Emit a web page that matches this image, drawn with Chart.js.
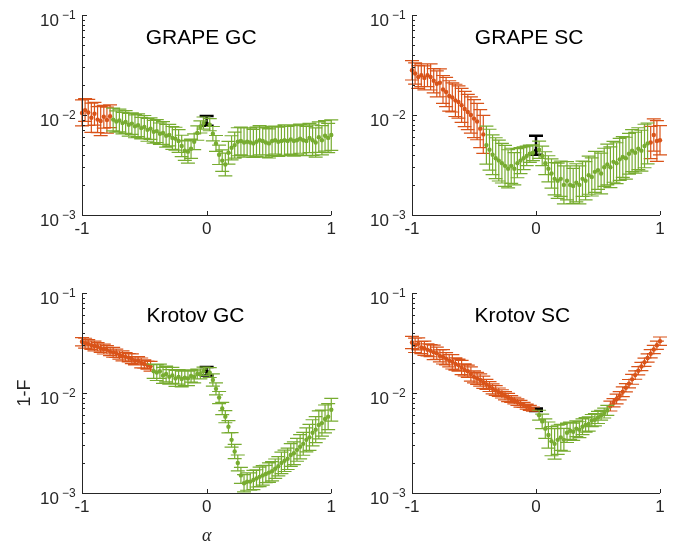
<!DOCTYPE html>
<html>
<head>
<meta charset="utf-8">
<script src="https://cdn.jsdelivr.net/npm/chart.js@4.4.0/dist/chart.umd.min.js"></script>
<style>
  html, body { margin: 0; padding: 0; background: #fff; }
  #wrap { position: relative; width: 673px; height: 547px; overflow: hidden; }
  canvas { position: absolute; }
</style>
</head>
<body>
<div id="wrap">
  <canvas id="c0" width="340" height="250" style="left:0;top:0"></canvas>
  <canvas id="c1" width="340" height="250" style="left:330px;top:0"></canvas>
  <canvas id="c2" width="340" height="269" style="left:0;top:278px"></canvas>
  <canvas id="c3" width="340" height="269" style="left:330px;top:278px"></canvas>
</div>
<script>
// alpha grid (x axis), shared by all four panels
const alpha = [
  -1, -0.975, -0.95, -0.925, -0.9, -0.875, -0.85, -0.825, -0.8, -0.775,
  -0.75, -0.725, -0.7, -0.675, -0.65, -0.625, -0.6, -0.575, -0.55, -0.525,
  -0.5, -0.475, -0.45, -0.425, -0.4, -0.375, -0.35, -0.325, -0.3, -0.275,
  -0.25, -0.225, -0.2, -0.175, -0.15, -0.125, -0.1, -0.075, -0.05, -0.025,
  0,
  0.025, 0.05, 0.075, 0.1, 0.125, 0.15, 0.175, 0.2, 0.225,
  0.25, 0.275, 0.3, 0.325, 0.35, 0.375, 0.4, 0.425, 0.45, 0.475,
  0.5, 0.525, 0.55, 0.575, 0.6, 0.625, 0.65, 0.675, 0.7, 0.725,
  0.75, 0.775, 0.8, 0.825, 0.85, 0.875, 0.9, 0.925, 0.95, 0.975, 1
];

const titles = ['GRAPE GC', 'GRAPE SC', 'Krotov GC', 'Krotov SC'];
const titleAlpha = [-0.044, -0.056, -0.09, -0.11];
const xTicks = [-1, 0, 1];
const yTicks = [1e-3, 1e-2, 1e-1];
const UNIT = 1e-3; // infidelity values below are in units of 1e-3

// 1-F, GRAPE GC
const ggY = [
  10.5, 11.2, 10.6, 9.4, 10.3, 9.0, 8.7, 9.6, 8.9, 9.7,
  9.0, 8.6, 8.8, 8.3, 8.5, 8.0, 8.2, 7.7, 7.9, 7.4,
  7.6, 7.1, 7.3, 6.8, 6.9, 6.5, 6.6, 6.2, 6.3, 5.9,
  5.8, 5.5, 4.9, 4.4, 4.3, 4.6, 5.4, 6.6, 7.6, 8.3,
  null,
  8.0, 6.5, 5.2, 4.0, 3.5, 3.2, 4.2, 4.7, 5.0,
  5.4, 5.5, 5.3, 5.4, 5.3, 5.2, 5.4, 5.6, 5.5, 5.3,
  5.2, 5.5, 5.6, 5.4, 5.5, 5.6, 5.5, 5.7, 5.5, 5.6,
  5.8, 5.6, 5.5, 5.9, 5.6, 5.3, 6.0, 5.6, 6.2, 5.9, 6.3
];
// error bar factor (upper = y*f, lower = y/f)
const ggE = [
  1.35, 1.3, 1.35, 1.4, 1.3, 1.35, 1.4, 1.3, 1.35, 1.3,
  1.3, 1.28, 1.3, 1.28, 1.3, 1.3, 1.28, 1.3, 1.3, 1.28,
  1.3, 1.3, 1.28, 1.3, 1.3, 1.28, 1.3, 1.3, 1.28, 1.3,
  1.3, 1.3, 1.28, 1.25, 1.3, 1.25, 1.2, 1.18, 1.15, 1.15,
  null,
  1.15, 1.18, 1.2, 1.25, 1.28, 1.3, 1.3, 1.32, 1.35,
  1.38, 1.38, 1.4, 1.38, 1.4, 1.38, 1.4, 1.4, 1.38, 1.4,
  1.4, 1.4, 1.38, 1.4, 1.4, 1.42, 1.4, 1.4, 1.42, 1.4,
  1.4, 1.42, 1.4, 1.4, 1.42, 1.4, 1.42, 1.4, 1.42, 1.4, 1.42
];

// 1-F, GRAPE SC
const gsY = [
  28, 26, 24, 25, 23.5, 25, 24, 22, 20.5, 21,
  18, 17, 15.5, 15, 14, 13.5, 12.5, 11.5, 10.7, 10,
  9.2, 8.6, 7.3, 6.4, 5.0, 4.5, 4.0, 3.7, 3.5, 3.3,
  3.1, 2.9, 3.1, 2.9, 3.3, 3.5, 3.7, 3.9, 4.1, 4.2,
  null,
  4.5, 3.9, 3.3, 2.9, 2.6, 2.3, 2.2, 2.3, 2.0,
  2.2, 2.0, 1.95, 2.1, 2.0, 2.3, 2.2, 2.5, 2.4, 2.7,
  2.8, 2.6, 3.0, 3.2, 3.0, 3.4, 3.3, 3.6, 3.8, 3.7,
  4.1, 4.4, 4.2, 4.6, 4.4, 4.9, 5.2, 5.3, 6.3, 5.5, 5.6
];
const gsE = [
  1.25, 1.28, 1.3, 1.3, 1.32, 1.3, 1.35, 1.32, 1.35, 1.38,
  1.38, 1.4, 1.42, 1.4, 1.45, 1.45, 1.48, 1.5, 1.5, 1.52,
  1.55, 1.52, 1.55, 1.55, 1.55, 1.6, 1.58, 1.6, 1.6, 1.58,
  1.6, 1.55, 1.5, 1.45, 1.4, 1.35, 1.3, 1.25, 1.22, 1.2,
  null,
  1.22, 1.25, 1.3, 1.35, 1.4, 1.45, 1.5, 1.5, 1.55,
  1.55, 1.55, 1.5, 1.55, 1.55, 1.5, 1.55, 1.55, 1.55, 1.6,
  1.55, 1.6, 1.55, 1.6, 1.6, 1.6, 1.6, 1.62, 1.6, 1.62,
  1.6, 1.62, 1.6, 1.62, 1.6, 1.65, 1.6, 1.45, 1.45, 1.6, 1.4
];

// 1-F, Krotov GC
const kgY = [
  32.5, 31.5, 31, 30, 29.5, 29, 28, 27.5, 27, 26,
  25.5, 25, 24, 23.5, 23, 22.5, 22, 21, 21, 20,
  19.5, 19, 18.5, 16.5, 16, 16.5, 15, 15.5, 14.5, 15,
  14, 14.5, 13.8, 14.2, 14, 14.8, 14.5, 15.5, 15.5, 16.5,
  null,
  16, 13.5, 11, 9, 7, 5.8, 4.6, 3.4, 2.6,
  2.0, 1.5, 1.25, 1.3, 1.3, 1.35, 1.4, 1.45, 1.5, 1.55,
  1.6, 1.65, 1.75, 1.85, 2.0, 2.1, 2.2, 2.4, 2.5, 2.7,
  2.9, 3.1, 3.4, 3.6, 4.0, 4.3, 4.8, 5.0, 5.5, 5.8, 6.8
];
const kgE = [
  1.1, 1.12, 1.1, 1.1, 1.12, 1.1, 1.1, 1.12, 1.1, 1.1,
  1.12, 1.1, 1.1, 1.12, 1.1, 1.1, 1.12, 1.1, 1.1, 1.12,
  1.1, 1.1, 1.12, 1.18, 1.2, 1.18, 1.2, 1.2, 1.18, 1.2,
  1.2, 1.18, 1.2, 1.2, 1.18, 1.15, 1.15, 1.12, 1.12, 1.1,
  null,
  1.12, 1.15, 1.15, 1.15, 1.15, 1.15, 1.15, 1.18, 1.18,
  1.2, 1.2, 1.22, 1.22, 1.22, 1.25, 1.22, 1.25, 1.25, 1.22,
  1.25, 1.25, 1.25, 1.25, 1.28, 1.28, 1.28, 1.3, 1.3, 1.3,
  1.32, 1.3, 1.32, 1.35, 1.35, 1.35, 1.38, 1.35, 1.38, 1.35, 1.3
];

// 1-F, Krotov SC
const ksY = [
  32, 30, 31, 28.5, 28, 27, 26.5, 25.5, 25, 23.5,
  23, 22, 21, 20.5, 19.5, 19, 18, 17, 16.5, 15.5,
  14.5, 14, 13.5, 12.8, 12.2, 11.6, 11, 10.6, 10.2, 9.8,
  9.4, 9.0, 8.7, 8.4, 8.1, 7.8, 7.6, 7.3, 7.1, 6.9,
  null,
  6.0, 5.2, 4.4, 3.8, 3.3, 3.1, 3.4, 3.6, 3.4,
  4.0, 4.2, 4.1, 4.4, 4.3, 4.6, 4.8, 4.9, 5.3, 5.4,
  5.7, 6.0, 6.3, 6.7, 7.4, 8.0, 8.7, 9.4, 10.3, 11.3,
  12.4, 13.7, 15.1, 16.7, 18.4, 20.3, 22.4, 24.7, 27.2, 30, 33
];
const ksE = [
  1.15, 1.18, 1.15, 1.15, 1.18, 1.15, 1.15, 1.18, 1.15, 1.15,
  1.18, 1.15, 1.15, 1.18, 1.15, 1.15, 1.18, 1.15, 1.15, 1.18,
  1.15, 1.15, 1.15, 1.15, 1.12, 1.12, 1.12, 1.12, 1.1, 1.1,
  1.1, 1.1, 1.08, 1.08, 1.08, 1.08, 1.06, 1.06, 1.06, 1.05,
  null,
  1.12, 1.18, 1.25, 1.35, 1.4, 1.42, 1.4, 1.35, 1.3,
  1.25, 1.22, 1.22, 1.2, 1.2, 1.2, 1.18, 1.18, 1.15, 1.15,
  1.15, 1.12, 1.12, 1.12, 1.12, 1.1, 1.12, 1.1, 1.12, 1.1,
  1.1, 1.12, 1.1, 1.1, 1.1, 1.1, 1.1, 1.1, 1.1, 1.1, 1.1
];

// alpha ranges drawn in orange (the rest is green)
const ggOrange = [[-1, -0.775]];
const gsOrange = [[-1, -0.425], [0.925, 1]];
const kgOrange = [[-1, -0.45]];
const ksOrange = [[-1, -0.025], [0.6, 1]];

// the black reference point of each panel (units of 1e-3)
const blackAlpha = [0, 0, 0, 0];
const blackY = [8.2, 4.4, 16.5, 6.8];
const blackLo = [7.8, 4.0, 15.0, 6.6];
const blackHi = [9.8, 6.2, 18.2, 7.0];

const ORANGE = '#D95319';
const GREEN = '#77AC30';
const AXIS = '#262626';
const FONT = '"Liberation Sans", Arial, Helvetica, sans-serif';

const panelY = [ggY, gsY, kgY, ksY];
const panelE = [ggE, gsE, kgE, ksE];
const panelOrange = [ggOrange, gsOrange, kgOrange, ksOrange];

// error bars: drawn before each dataset's points, through the chart scales
const errorBars = {
  id: 'errorBars',
  beforeDatasetDraw(chart, args) {
    const ds = chart.data.datasets[args.index];
    const { ctx, chartArea: a, scales: { x, y } } = chart;
    const cap = 7;
    ctx.save();
    ctx.beginPath();
    ctx.rect(0, a.top - 1, chart.width, a.bottom - a.top + 2);
    ctx.clip();
    ctx.strokeStyle = ds.borderColor;
    ctx.lineWidth = ds.errWidth;
    ctx.beginPath();
    ds.data.forEach(p => {
      const px = x.getPixelForValue(p.x);
      const top = y.getPixelForValue(p.hi);
      const bot = y.getPixelForValue(p.lo);
      ctx.moveTo(px, top); ctx.lineTo(px, bot);
      ctx.moveTo(px - cap, top); ctx.lineTo(px + cap, top);
      ctx.moveTo(px - cap, bot); ctx.lineTo(px + cap, bot);
    });
    ctx.stroke();
    ctx.restore();
  }
};

// MATLAB-like axes: left and bottom spines, inward ticks, 10^n labels, title
const matlabAxes = {
  id: 'matlabAxes',
  afterDraw(chart, args, opts) {
    const { ctx, chartArea: a, scales: { x, y } } = chart;
    ctx.save();
    ctx.strokeStyle = AXIS;
    ctx.lineWidth = 1;
    ctx.beginPath();
    ctx.moveTo(a.left + 0.5, a.top);
    ctx.lineTo(a.left + 0.5, a.bottom + 0.5);
    ctx.lineTo(a.right, a.bottom + 0.5);
    yTicks.forEach((v, i) => {
      const py = Math.round(y.getPixelForValue(v)) + 0.5;
      ctx.moveTo(a.left, py); ctx.lineTo(a.left + 5, py);
      if (i < yTicks.length - 1) {
        for (let m = 2; m <= 9; m++) {
          const pm = Math.round(y.getPixelForValue(v * m)) + 0.5;
          ctx.moveTo(a.left, pm); ctx.lineTo(a.left + 3, pm);
        }
      }
    });
    xTicks.forEach(v => {
      const px = Math.round(x.getPixelForValue(v)) + 0.5;
      ctx.moveTo(px, a.bottom); ctx.lineTo(px, a.bottom - 4);
    });
    ctx.stroke();

    ctx.fillStyle = AXIS;
    ctx.textBaseline = 'alphabetic';
    yTicks.forEach(v => {
      const py = y.getPixelForValue(v);
      const exp = Math.round(Math.log10(v));
      ctx.font = '17px ' + FONT;
      ctx.textAlign = 'right';
      ctx.fillText('10', a.left - 23, py + 10.5);
      ctx.font = '12px ' + FONT;
      ctx.textAlign = 'left';
      ctx.fillText(String(exp).replace('-', '\u2212'), a.left - 20, py + 3.5);
    });

    ctx.fillStyle = '#000';
    ctx.font = '21px ' + FONT;
    ctx.textAlign = 'center';
    ctx.textBaseline = 'middle';
    ctx.fillText(opts.text, x.getPixelForValue(opts.at), a.top + 23);
    ctx.restore();
  }
};

function makeSet(data, color, width, radius) {
  return {
    data: data,
    borderColor: color,
    backgroundColor: color,
    pointRadius: radius,
    pointBorderWidth: 0,
    pointHoverRadius: radius,
    errWidth: width,
    clip: false
  };
}

function panelSets(k) {
  const ys = panelY[k], es = panelE[k], ranges = panelOrange[k];
  const isOrange = v => ranges.some(r => v >= r[0] - 1e-9 && v <= r[1] + 1e-9);
  const orange = [], green = [];
  alpha.forEach((v, i) => {
    if (ys[i] == null) return;
    const val = ys[i] * UNIT;
    const pt = { x: v, y: val, lo: val / es[i], hi: val * es[i] };
    (isOrange(v) ? orange : green).push(pt);
  });
  const black = [{
    x: blackAlpha[k], y: blackY[k] * UNIT,
    lo: blackLo[k] * UNIT, hi: blackHi[k] * UNIT
  }];
  return [
    makeSet(green, GREEN, 1.2, 2.2),
    makeSet(orange, ORANGE, 1.2, 2.2),
    makeSet(black, '#000', 2.5, 2.2)
  ];
}

const rightPad = [7, 10, 7, 10];
const xAxisH = [35, 35, 54, 54];

titles.forEach((t, k) => {
  const ctx = document.getElementById('c' + k).getContext('2d');
  new Chart(ctx, {
    type: 'scatter',
    data: { datasets: panelSets(k) },
    plugins: [errorBars, matlabAxes],
    options: {
      responsive: false,
      animation: false,
      devicePixelRatio: 1,
      layout: { padding: { left: 0, right: rightPad[k], top: 15, bottom: 0 } },
      plugins: {
        legend: { display: false },
        tooltip: { enabled: false },
        matlabAxes: { text: t, at: titleAlpha[k] }
      },
      scales: {
        x: {
          type: 'linear',
          min: -1,
          max: 1,
          afterBuildTicks: s => { s.ticks = xTicks.map(v => ({ value: v })); },
          afterFit: s => { s.height = xAxisH[k]; },
          grid: { display: false, drawTicks: false },
          border: { display: false },
          ticks: {
            color: AXIS,
            padding: 4,
            maxRotation: 0,
            font: { family: FONT, size: 17 },
            callback: v => String(v)
          },
          title: {
            display: k === 2,
            text: '\u03b1',
            color: AXIS,
            padding: { top: 0, bottom: 0 },
            font: { family: '"Liberation Serif", "DejaVu Serif", serif', size: 18, style: 'italic' }
          }
        },
        y: {
          type: 'logarithmic',
          min: 1e-3,
          max: 1e-1,
          afterBuildTicks: s => { s.ticks = yTicks.map(v => ({ value: v })); },
          afterFit: s => { s.width = 82; },
          grid: { display: false, drawTicks: false },
          border: { display: false },
          ticks: { display: false },
          title: {
            display: k === 2,
            text: '1-F',
            color: AXIS,
            padding: { top: 14, bottom: 0 },
            font: { family: FONT, size: 18 }
          }
        }
      }
    }
  });
});
</script>
</body>
</html>
